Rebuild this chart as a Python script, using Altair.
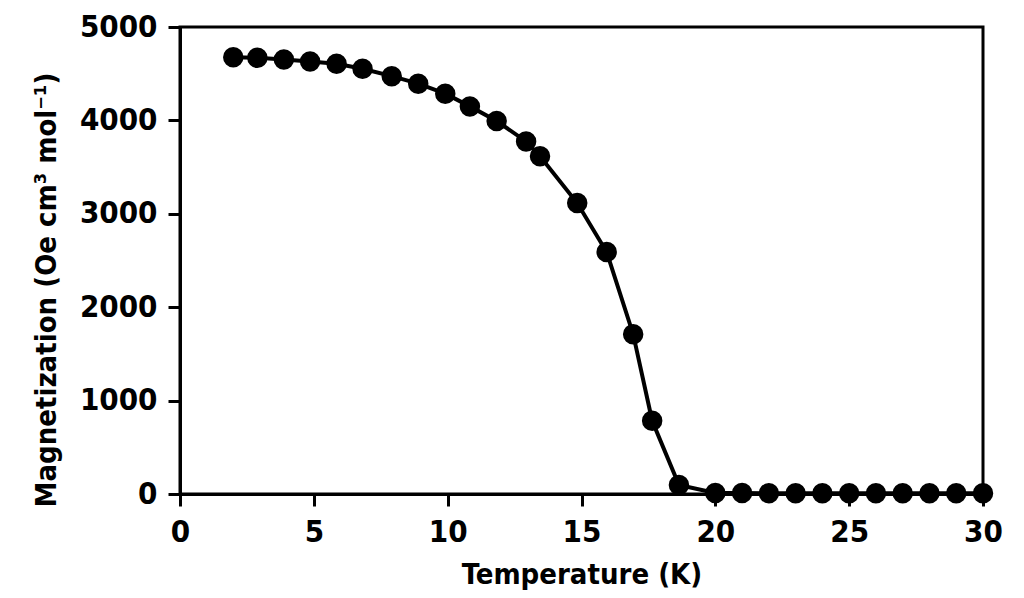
import altair as alt
import pandas as pd

# Temperature (K) and magnetization readings
temperature = [1.99, 2.89, 3.88, 4.86, 5.85, 6.82, 7.91, 8.90, 9.91, 10.83,
               11.83, 12.93, 13.45, 14.84, 15.94, 16.93, 17.64, 18.64,
               20, 21, 22, 23, 24, 25, 26, 27, 28, 29, 30]
magnetization = [4677, 4671, 4652, 4631, 4606, 4553, 4474, 4393, 4286, 4150,
                 3993, 3775, 3615, 3115, 2591, 1711, 784, 96,
                 10, 10, 8, 8, 8, 8, 8, 8, 8, 8, 8]

x_ticks = [0, 5, 10, 15, 20, 25, 30]
y_ticks = [0, 1000, 2000, 3000, 4000, 5000]

df = pd.DataFrame({"T": temperature, "M": magnetization})

FONT = "DejaVu Sans Condensed, Liberation Sans"

x_enc = alt.X(
    "T:Q",
    scale=alt.Scale(domain=[0, 30], nice=False, zero=False),
    axis=alt.Axis(
        values=x_ticks, format="d", title="Temperature (K)", grid=False,
        labelFontSize=31, labelFontWeight="bold", labelColor="black",
        labelPadding=11, labelFlush=False,
        tickSize=12, tickWidth=3, tickColor="black",
        domainWidth=3, domainColor="black",
        titleFontSize=29, titleFontWeight="bold", titleColor="black",
        titlePadding=13,
    ),
)
y_enc = alt.Y(
    "M:Q",
    scale=alt.Scale(domain=[0, 5000], nice=False),
    axis=alt.Axis(
        values=y_ticks, format="d", title="Magnetization (Oe cm³ mol⁻¹)", grid=False,
        labelFontSize=31, labelFontWeight="bold", labelColor="black",
        labelPadding=11, labelFlush=False,
        tickSize=12, tickWidth=3, tickColor="black",
        domainWidth=3, domainColor="black",
        titleFontSize=29, titleFontWeight="bold", titleColor="black",
        titlePadding=18, titleAnchor="start", titleY=480,
    ),
)

line = alt.Chart(df).mark_line(color="black", strokeWidth=4).encode(x=x_enc, y=y_enc)
dots = alt.Chart(df).mark_circle(color="black", size=420, opacity=1).encode(x="T:Q", y="M:Q")

chart = (
    (line + dots)
    .properties(
        width=803, height=467,
        autosize=alt.AutoSizeParams(type="none"),
        padding={"left": 180, "top": 27, "right": 41, "bottom": 104},
        background="white",
    )
    .configure(font=FONT)
    .configure_view(stroke="black", strokeWidth=3)
)

chart.save("out.html", embed_options={"renderer": "svg", "actions": False})
